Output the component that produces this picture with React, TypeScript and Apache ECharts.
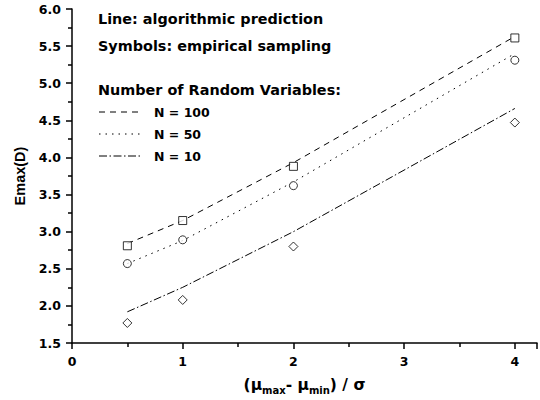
import React, { useEffect, useRef } from "react";
import * as echarts from "echarts";

const xValues = [0.5, 1, 2, 4];
const pred100 = [2.84, 3.15, 3.93, 5.63];
const pred50 = [2.57, 2.88, 3.67, 5.4];
const pred10 = [1.92, 2.25, 3.0, 4.66];
const emp100 = [2.81, 3.15, 3.88, 5.61];
const emp50 = [2.57, 2.89, 3.62, 5.31];
const emp10 = [1.77, 2.08, 2.8, 4.47];
const legendLabels = ["N = 100", "N = 50", "N = 10"];
const noteLines = ["Line: algorithmic prediction", "Symbols: empirical sampling", "Number of Random Variables:"];

const pair = (ys: number[]) => xValues.map((x, i) => [x, ys[i]]);

const WIDE = "DejaVu Sans, Verdana, sans-serif";
const NARROW = "Liberation Sans, Arial, sans-serif";
const dashes: number[][] = [[6, 5], [1.5, 5], [8, 2.5, 1.5, 2.5]];

export default function App() {
  const ref = useRef<HTMLDivElement>(null);
  useEffect(() => {
    if (!ref.current) return;
    const chart = echarts.init(ref.current, null, { renderer: "svg" });
    const lineSeries = [pred100, pred50, pred10].map((d, i) => ({
      type: "line",
      data: pair(d),
      showSymbol: false,
      symbol: "none",
      lineStyle: { color: "#000", width: 1, type: dashes[i] },
      z: 2,
    }));
    const symbols = ["rect", "circle", "diamond"];
    const sizes = [8, 8, 9];
    const scatterSeries = [emp100, emp50, emp10].map((d, i) => ({
      type: "scatter",
      data: pair(d),
      symbol: symbols[i],
      symbolSize: sizes[i],
      itemStyle: { color: "#fff", borderColor: "#000", borderWidth: 1 },
      z: 3,
    }));
    const legendY = [112, 134, 156];
    const graphics: any[] = [];
    const noteY = [19, 46, 90];
    noteLines.forEach((t, i) =>
      graphics.push({
        type: "text",
        x: 98,
        y: noteY[i],
        style: { text: t, font: `bold 14.4px ${WIDE}`, fill: "#000", textVerticalAlign: "middle", verticalAlign: "middle" },
      })
    );
    legendLabels.forEach((t, i) => {
      graphics.push({
        type: "line",
        shape: { x1: 99, y1: legendY[i], x2: 141, y2: legendY[i] },
        style: { stroke: "#000", lineWidth: 1, lineDash: dashes[i] },
      });
      graphics.push({
        type: "text",
        x: 154,
        y: legendY[i],
        style: { text: t, font: `bold 12.5px ${WIDE}`, fill: "#000", textVerticalAlign: "middle", verticalAlign: "middle" },
      });
    });
    chart.setOption({
      animation: false,
      grid: { left: 72, right: -3, top: 9, bottom: 56 },
      xAxis: {
        type: "value",
        min: 0,
        max: 4.2,
        interval: 1,
        splitLine: { show: false },
        axisLine: { lineStyle: { color: "#000", width: 1.5 } },
        axisTick: { length: 6, lineStyle: { color: "#000", width: 1.5 } },
        minorTick: { show: true, splitNumber: 2, length: 4, lineStyle: { color: "#000", width: 1.5 } },
        axisLabel: {
          color: "#000",
          fontWeight: "bold",
          fontSize: 12.5,
          fontFamily: WIDE,
          margin: 12,
          formatter: (v: number) => (Number.isInteger(v) ? String(v) : ""),
        },
        name: "(μ{sub|max}- μ{sub|min}) / σ",
        nameLocation: "middle",
        nameGap: 32,
        nameTextStyle: {
          color: "#000",
          fontWeight: "bold",
          fontSize: 15.5,
          fontFamily: WIDE,
          rich: {
            sub: { fontSize: 10, fontWeight: "bold", fontFamily: WIDE, color: "#000", padding: [10, 0, 0, 0] },
          },
        },
      },
      yAxis: {
        type: "value",
        min: 1.5,
        max: 6.0,
        interval: 0.5,
        splitLine: { show: false },
        axisLine: { show: true, lineStyle: { color: "#000", width: 1.5 } },
        axisTick: { show: true, length: 6, lineStyle: { color: "#000", width: 1.5 } },
        minorTick: { show: true, splitNumber: 2, length: 4, lineStyle: { color: "#000", width: 1.5 } },
        axisLabel: {
          color: "#000",
          fontWeight: "bold",
          fontSize: 12.5,
          fontFamily: WIDE,
          margin: 11,
          formatter: (v: number) => v.toFixed(1),
        },
        name: "Emax(D)",
        nameLocation: "middle",
        nameGap: 44,
        nameTextStyle: { color: "#000", fontWeight: "bold", fontSize: 14.5, fontFamily: NARROW },
      },
      series: [...lineSeries, ...scatterSeries],
      graphic: graphics,
    });
    return () => chart.dispose();
  }, []);
  return <div ref={ref} style={{ position: "fixed", left: 0, top: 0, width: 540, height: 400, background: "#fff" }} />;
}
